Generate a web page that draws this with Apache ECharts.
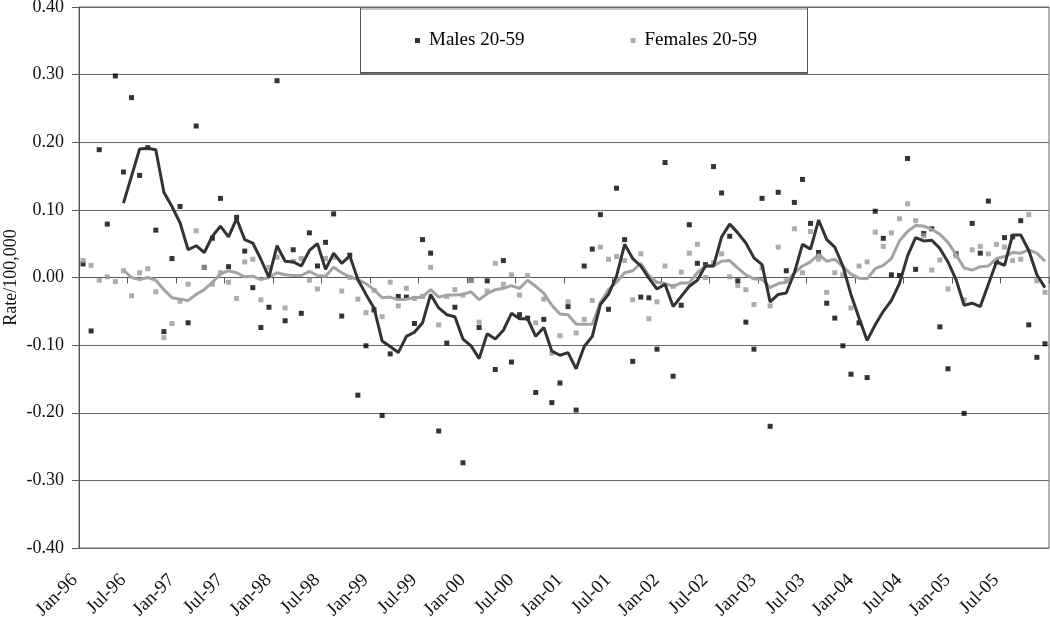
<!DOCTYPE html>
<html>
<head>
<meta charset="utf-8">
<script src="https://cdn.jsdelivr.net/npm/echarts@6/dist/echarts.min.js"></script>
<style>
  html, body { margin: 0; padding: 0; background: #fff; }
  #chart { width: 1050px; height: 617px; }
</style>
</head>
<body>
<div id="chart"></div>
<script>
// Monthly categories Jan-96 .. Dec-05 (120 months); tick labels every 6 months
const tickLabels = ['Jan-96','Jul-96','Jan-97','Jul-97','Jan-98','Jul-98','Jan-99','Jul-99','Jan-00','Jul-00',
                    'Jan-01','Jul-01','Jan-02','Jul-02','Jan-03','Jul-03','Jan-04','Jul-04','Jan-05','Jul-05'];
const monthsCount = 120;

// Monthly rates, Males 20-59
const males = [
  0.020,-0.079, 0.189, 0.079, 0.298, 0.156, 0.266, 0.151, 0.192, 0.070,
 -0.080, 0.028, 0.105,-0.067, 0.224, 0.015, 0.058, 0.117, 0.016, 0.089,
  0.039,-0.015,-0.074,-0.044, 0.291,-0.064, 0.041,-0.053, 0.066, 0.017,
  0.052, 0.094,-0.057, 0.033,-0.174,-0.101,-0.048,-0.204,-0.113,-0.028,
 -0.029,-0.068, 0.056, 0.036,-0.227,-0.097,-0.044,-0.274,-0.004,-0.074,
 -0.005,-0.136, 0.025,-0.125,-0.055,-0.060,-0.170,-0.062,-0.185,-0.156,
 -0.043,-0.196, 0.017, 0.042, 0.093,-0.047, 0.132, 0.056,-0.124,-0.029,
 -0.030,-0.106, 0.170,-0.146,-0.041, 0.078, 0.021, 0.019, 0.164, 0.125,
  0.061,-0.005,-0.066,-0.106, 0.117,-0.220, 0.126, 0.010, 0.111, 0.145,
  0.080, 0.037,-0.038,-0.060,-0.101,-0.143,-0.067,-0.148, 0.098, 0.058,
  0.004, 0.003, 0.176, 0.012, 0.065, 0.072,-0.073,-0.135, 0.035,-0.201,
  0.080, 0.036, 0.113, 0.023, 0.059, 0.060, 0.084,-0.070,-0.118,-0.098
];

// Monthly rates, Females 20-59
const females = [
  0.025, 0.018,-0.004, 0.001,-0.006, 0.010,-0.027, 0.007, 0.013,-0.021,
 -0.089,-0.068,-0.035,-0.010, 0.069, 0.015,-0.010, 0.007,-0.007,-0.031,
  0.023, 0.027,-0.033, 0.015, 0.030,-0.045, 0.024, 0.028,-0.004,-0.017,
  0.028, 0.030,-0.020, 0.000,-0.032,-0.052,-0.019,-0.058,-0.007,-0.042,
 -0.016,-0.031,-0.028, 0.015,-0.070,-0.028,-0.018,-0.026,-0.004,-0.066,
 -0.020, 0.021,-0.010, 0.004,-0.026, 0.003,-0.067,-0.032,-0.112,-0.086,
 -0.036,-0.082,-0.062,-0.034, 0.045, 0.027, 0.031, 0.025,-0.033, 0.035,
 -0.061,-0.036, 0.017,-0.013, 0.008, 0.036, 0.049, 0.000, 0.022, 0.035,
  0.001,-0.012,-0.018,-0.040, 0.014,-0.042, 0.045,-0.005, 0.072, 0.007,
  0.068, 0.027,-0.022, 0.007, 0.004,-0.045, 0.017, 0.023, 0.067, 0.046,
  0.066, 0.087, 0.109, 0.084, 0.062, 0.011, 0.026,-0.017, 0.032,-0.033,
  0.041, 0.046, 0.035, 0.049, 0.045, 0.025, 0.027, 0.093,-0.005,-0.022
];

// Smoothed trend line, Males (starts at 6th month)
const malesTrend = [
  null,  null,  null,  null,  null, 0.110, 0.150, 0.190, 0.191, 0.189,
  0.126, 0.105, 0.081, 0.041, 0.047, 0.037, 0.061, 0.076, 0.060, 0.087,
  0.056, 0.051, 0.027, 0.000, 0.047, 0.024, 0.023, 0.017, 0.040, 0.050,
  0.012, 0.036, 0.021, 0.032,-0.003,-0.025,-0.045,-0.094,-0.102,-0.111,
 -0.087,-0.081,-0.067,-0.025,-0.045,-0.055,-0.058,-0.091,-0.101,-0.120,
 -0.083,-0.091,-0.078,-0.053,-0.061,-0.061,-0.087,-0.074,-0.109,-0.115,
 -0.111,-0.135,-0.102,-0.087,-0.040,-0.025, 0.002, 0.049, 0.028, 0.017,
 -0.001,-0.017,-0.010,-0.043,-0.028,-0.013,-0.004, 0.017, 0.017, 0.060,
  0.079, 0.066, 0.051, 0.029, 0.019,-0.036,-0.025,-0.023, 0.007, 0.049,
  0.042, 0.085, 0.056, 0.045, 0.017,-0.025,-0.060,-0.093,-0.070,-0.050,
 -0.034,-0.009, 0.032, 0.059, 0.054, 0.055, 0.043, 0.023,-0.003,-0.041,
 -0.038,-0.043,-0.010, 0.023, 0.018, 0.063, 0.063, 0.040, 0.004,-0.015
];

// Smoothed trend line, Females (starts at 6th month)
const femalesTrend = [
  null,  null,  null,  null,  null, 0.011, 0.000,-0.003, 0.000,-0.004,
 -0.018,-0.030,-0.032,-0.034,-0.025,-0.018,-0.007, 0.005, 0.010, 0.007,
  0.001, 0.002,-0.003, 0.000, 0.007, 0.004, 0.003, 0.003, 0.009, 0.003,
  0.002, 0.015, 0.007, 0.001,-0.003,-0.009,-0.018,-0.030,-0.029,-0.033,
 -0.032,-0.030,-0.029,-0.018,-0.029,-0.026,-0.026,-0.025,-0.021,-0.033,
 -0.024,-0.018,-0.016,-0.012,-0.016,-0.004,-0.013,-0.023,-0.041,-0.054,
 -0.055,-0.069,-0.069,-0.069,-0.037,-0.018,-0.007, 0.007, 0.010, 0.021,
  0.003,-0.007,-0.009,-0.013,-0.008,-0.008, 0.007, 0.017, 0.017, 0.024,
  0.025, 0.014, 0.004,-0.002,-0.003,-0.015,-0.009,-0.007, 0.007, 0.017,
  0.023, 0.034, 0.024, 0.027, 0.016, 0.005,-0.001,-0.002, 0.013, 0.018,
  0.028, 0.054, 0.068, 0.077, 0.076, 0.071, 0.064, 0.052, 0.034, 0.014,
  0.011, 0.016, 0.017, 0.028, 0.031, 0.037, 0.036, 0.041, 0.036, 0.024
];

const seriesNames = ['Males 20-59', 'Females 20-59'];

function pts(arr) {
  const out = [];
  arr.forEach((v, i) => { if (v !== null) out.push([i + 0.5, v]); });
  return out;
}

const FONT = 'Liberation Serif';
const chart = echarts.init(document.getElementById('chart'), null, { renderer: 'canvas' });

chart.setOption({
  animation: false,
  backgroundColor: '#fff',
  grid: {
    left: 79, right: 1, top: 7, bottom: 69,
    containLabel: false, outerBoundsMode: 'none',
    show: true, borderColor: '#666', borderWidth: 1, backgroundColor: 'transparent'
  },
  graphic: [{
    type: 'rect', z: 0,
    shape: { x: 360.5, y: 7.5, width: 447, height: 65 },
    style: { fill: '#fff', stroke: '#555', lineWidth: 1, shadowColor: 'rgba(0,0,0,0.45)', shadowOffsetX: 0, shadowOffsetY: 1.5, shadowBlur: 0 }
  }],
  legend: {
    data: seriesNames,
    left: 415, top: 31,
    padding: 0,
    icon: 'rect',
    itemWidth: 5, itemHeight: 5,
    itemGap: 106,
    textStyle: { fontFamily: FONT, fontSize: 19, color: '#000', padding: [0, 0, 0, 4] },
    z: 10
  },
  xAxis: {
    type: 'value',
    min: 0, max: monthsCount, interval: 6,
    axisLine: { show: true, lineStyle: { color: '#555', width: 1 } },
    axisTick: { show: true, length: 6, lineStyle: { color: '#555' } },
    splitLine: { show: false },
    axisLabel: {
      rotate: 45,
      margin: 25,
      padding: [0, 6, 0, 0],
      fontFamily: FONT, fontSize: 19, color: '#111',
      showMaxLabel: true,
      formatter: (v) => { const k = Math.round(v / 6); return (k < tickLabels.length) ? tickLabels[k] : ''; }
    }
  },
  yAxis: {
    type: 'value',
    min: -0.4, max: 0.4, interval: 0.1,
    name: 'Rate/100,000',
    nameLocation: 'middle',
    nameGap: 59,
    nameMoveOverlap: false,
    nameRotate: 90,
    nameTextStyle: { fontFamily: FONT, fontSize: 18, color: '#111' },
    axisLine: { show: true, lineStyle: { color: '#555', width: 1 } },
    axisTick: { show: true, length: 7, lineStyle: { color: '#555' } },
    splitLine: { show: true, lineStyle: { color: '#6a6a6a', width: 1 } },
    axisLabel: {
      margin: 15,
      fontFamily: FONT, fontSize: 18, color: '#111',
      formatter: (v) => { const r = Math.round(v * 100) / 100; return (Math.abs(r) < 1e-9 ? 0 : r).toFixed(2); }
    }
  },
  series: [
    {
      name: seriesNames[0], type: 'scatter', symbol: 'rect', symbolSize: 5,
      itemStyle: { color: '#000' }, data: pts(males), z: 2
    },
    {
      name: seriesNames[1], type: 'scatter', symbol: 'rect', symbolSize: 5,
      itemStyle: { color: '#999999' }, data: pts(females), z: 3
    },
    {
      name: 'Females trend', type: 'line', showSymbol: false, symbol: 'none',
      lineStyle: { color: '#a3a3a3', width: 3 }, itemStyle: { color: '#a3a3a3' },
      data: pts(femalesTrend), z: 4
    },
    {
      name: 'Males trend', type: 'line', showSymbol: false, symbol: 'none',
      lineStyle: { color: '#333333', width: 3 }, itemStyle: { color: '#333333' },
      data: pts(malesTrend), z: 5
    }
  ]
});
</script>
</body>
</html>
